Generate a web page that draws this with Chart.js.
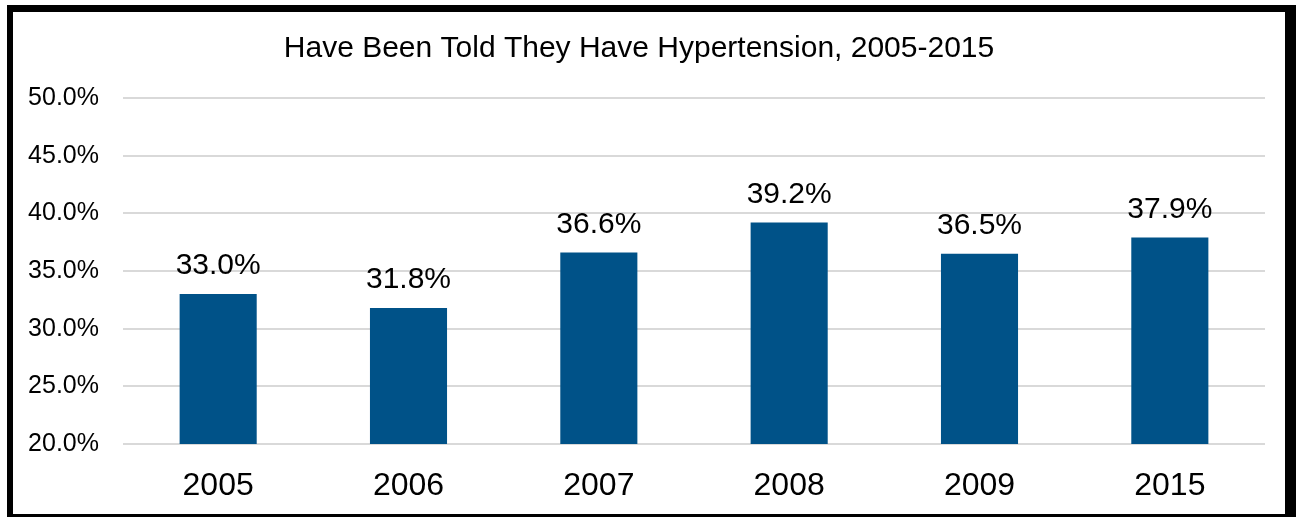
<!DOCTYPE html>
<html>
<head>
<meta charset="utf-8">
<script src="https://cdn.jsdelivr.net/npm/chart.js@4.4.1/dist/chart.umd.min.js"></script>
<style>
  html, body { margin: 0; padding: 0; background: #fff; }
  body { width: 1296px; height: 517px; position: relative; overflow: hidden; }
  #frame {
    position: absolute; left: 7px; top: 5px;
    width: 1272px; height: 502px;
    border-left: 6px solid #000; border-top: 7px solid #000;
    border-right: 11px solid #000; border-bottom: 3px solid #000;
  }
  #wrap { position: absolute; left: 0; top: 0; width: 1272px; height: 502px; }
</style>
</head>
<body>
<div id="frame"><div id="wrap"><canvas id="c"></canvas></div></div>
<script>
const chartTitle = 'Have Been Told They Have Hypertension, 2005-2015';
const years = ['2005', '2006', '2007', '2008', '2009', '2015'];
const hypertensionPct = [33.0, 31.8, 36.6, 39.2, 36.5, 37.9];
const yTicks = [20, 25, 30, 35, 40, 45, 50];

const FONT = '"Liberation Sans", Arial, sans-serif';
const BAR_COLOR = '#005288';

// Percent labels drawn above each bar
const valueLabels = {
  id: 'valueLabels',
  afterDatasetsDraw(chart) {
    const ctx = chart.ctx;
    const meta = chart.getDatasetMeta(0);
    const data = chart.data.datasets[0].data;
    ctx.save();
    ctx.font = '30px ' + FONT;
    ctx.fillStyle = '#000';
    ctx.textAlign = 'center';
    ctx.textBaseline = 'alphabetic';
    meta.data.forEach((bar, i) => {
      ctx.fillText(data[i].toFixed(1) + '%', bar.x, bar.y - 20);
    });
    ctx.restore();
  }
};

new Chart(document.getElementById('c'), {
  type: 'bar',
  data: {
    labels: years,
    datasets: [{
      data: hypertensionPct,
      backgroundColor: BAR_COLOR,
      borderWidth: 0,
      barPercentage: 0.405,
      categoryPercentage: 1.0
    }]
  },
  options: {
    responsive: true,
    maintainAspectRatio: false,
    animation: false,
    layout: { padding: { left: 0, right: 20, top: 0, bottom: 0 } },
    plugins: {
      legend: { display: false },
      tooltip: { enabled: false },
      title: {
        display: true,
        text: chartTitle,
        color: '#000',
        font: { family: FONT, size: 30, weight: 'normal' },
        padding: { top: 19, bottom: 31 }
      }
    },
    scales: {
      x: {
        grid: { display: false },
        border: { display: false },
        ticks: {
          color: '#000',
          font: { family: FONT, size: 32 },
          padding: 15
        },
        afterFit(scale) { scale.height = 70; }
      },
      y: {
        min: yTicks[0],
        max: yTicks[yTicks.length - 1],
        afterBuildTicks(scale) { scale.ticks = yTicks.map(v => ({ value: v })); },
        grid: { color: '#d9d9d9', lineWidth: 2, drawTicks: false },
        border: { display: false },
        ticks: {
          color: '#000',
          font: { family: FONT, size: 25 },
          padding: 24,
          callback: v => v.toFixed(1) + '%'
        },
        afterFit(scale) { scale.width = 110; }
      }
    }
  },
  plugins: [valueLabels]
});
</script>
</body>
</html>
